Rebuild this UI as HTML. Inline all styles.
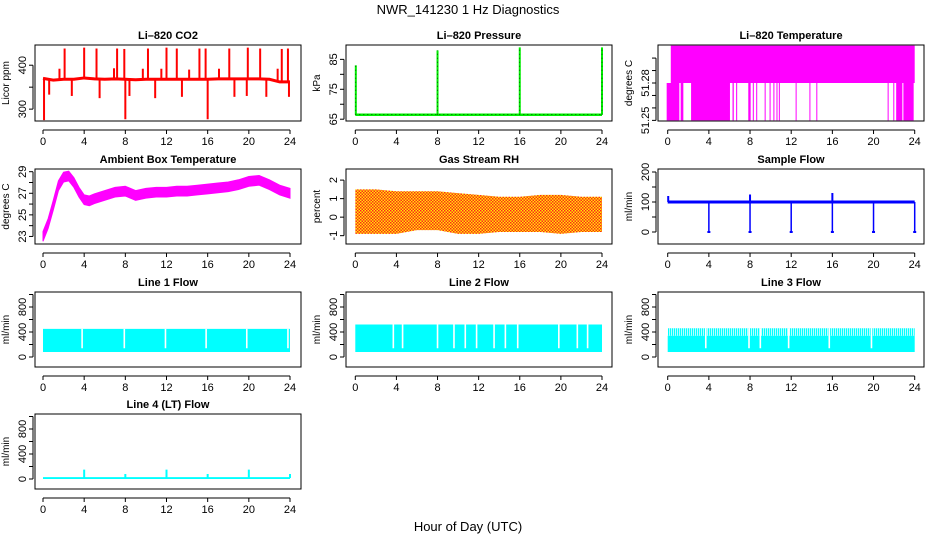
<!DOCTYPE html>
<html><head><meta charset="utf-8"><style>
body{margin:0;background:#fff}
svg{display:block;font-family:"Liberation Sans",sans-serif}
</style></head><body>
<svg id="c" width="936" height="540" viewBox="0 0 936 540">
<defs>
<pattern id="rhpat" width="3" height="3" patternUnits="userSpaceOnUse"><rect width="3" height="3" fill="#ffee00"/><rect x="0" y="0" width="1.5" height="1.5" fill="#ff2020"/><rect x="1.5" y="1.5" width="1.5" height="1.5" fill="#ff2020"/></pattern>
<pattern id="stripe" width="2" height="4" patternUnits="userSpaceOnUse"><rect width="1.3" height="4" fill="#00ffff"/></pattern>
</defs>
<text x="468" y="14" font-size="13" text-anchor="middle">NWR_141230  1 Hz Diagnostics</text>
<text x="468" y="531" font-size="13" text-anchor="middle">Hour of Day (UTC)</text>
</svg>
<script>
// ---- data ----
const hours = [0,1,2,3,4,5,6,7,8,9,10,11,12,13,14,15,16,17,18,19,20,21,22,23,24];
const co2Base = [370,366,368,368,371,369,368,369,368,367,368,368,368,368,368,368,368,369,369,369,369,369,368,362,362];
const co2SpikeHours = [0.1,2.1,4.0,5.2,7.2,7.9,8.0,10.2,12.0,13.0,15.2,15.8,16.0,18.1,19.9,21.1,23.2,23.8,0.6,2.8,5.5,8.4,10.9,13.5,18.6,19.8,21.7,23.9,1.6,6.9,9.7,11.5,14.2,17.1,22.8];
const co2SpikeVals = [275,438,440,438,438,437,277,438,440,438,438,438,277,438,440,438,437,438,333,330,325,330,325,328,328,330,328,328,392,393,392,392,390,392,392];
const presBase = 66.5;
const presSpikeHours = [0.05,8.0,16.0,24.0];
const presSpikeVals = [83,88,89,89];
const tempLowStart = [-0.1,1.26,2.27,6.3,6.65,7.83,8.27,8.6,9.42,9.9,10.27,10.57,10.8,12.43,13.77,14.44,21.37,21.92,22.2,22.9];
const tempLowEnd = [1.13,1.52,6.05,6.42,6.75,8.06,8.33,8.68,9.5,9.97,10.33,10.63,10.88,12.5,13.84,14.5,21.43,21.98,22.8,23.9];
const tempTopStart = 0.3, tempTopEnd = 24.0;
const tempLevels = [51.25,51.28,51.31];
const ambHours = [0,0.5,1,1.5,2,2.5,3,3.5,4,4.5,5,6,7,8,9,10,11,12,13,14,15,16,17,18,19,20,21,22,23,24];
const ambMean = [23.0,24.2,25.9,27.7,28.5,28.6,28.0,27.1,26.4,26.3,26.5,26.8,27.1,27.2,26.8,27.0,27.1,27.1,27.2,27.2,27.3,27.4,27.5,27.6,27.8,28.1,28.2,27.8,27.3,27.0];
const rhHours = [0,2,4,6,8,10,12,14,16,18,20,22,24];
const rhUpper = [1.5,1.5,1.4,1.4,1.4,1.3,1.2,1.1,1.1,1.2,1.2,1.1,1.1];
const rhLower = [-0.9,-0.9,-0.9,-0.7,-0.7,-0.9,-0.9,-0.8,-0.8,-0.8,-0.9,-0.8,-0.8];
const sfBase = 100;
const sfDropHours = [4,8,12,16,20,24];
const sfPeakHours = [0.05,8,16];
const sfPeakVals = [120,125,130];
const l1Upper = 450, l1Lower = 80, l1Gaps = [3.8,7.9,11.9,15.85,19.8,23.8];
const l2Upper = 520, l2Lower = 80, l2Gaps = [3.7,4.6,8.0,9.6,10.7,11.8,13.5,14.6,15.8,19.8,21.6,22.6];
const l3Upper = 460, l3Mid = 340, l3Lower = 80, l3Gaps = [3.7,7.9,9.0,11.75,15.7,19.8];
const l4Base = 15;
const l4SpikeHours = [4,8,12,16,20,24];
const l4SpikeVals = [150,80,150,80,150,80];
const xTicks = [0,4,8,12,16,20,24];

// ---- layout ----
const svg = document.getElementById('c');
const NS = 'http://www.w3.org/2000/svg';
function el(tag, attrs, parent){const e=document.createElementNS(NS,tag);for(const k in attrs)e.setAttribute(k,attrs[k]);(parent||svg).appendChild(e);return e;}
const cols = [{l:35,r:301,x0:43,x24:290},{l:346,r:612,x0:355.3,x24:602},{l:658,r:924,x0:667.7,x24:914.7}];
const rows = [{t:45,b:121},{t:169,b:244},{t:292,b:367},{t:414,b:489}];

function panel(name,title,ylab,row,col,ymin,ymax,yticks,ylabels){
  const R=rows[row],C=cols[col];
  const g=el('g',{});
  
  
  const X=h=>C.x0+(C.x24-C.x0)*h/24;
  const Y=v=>R.b-(v-ymin)/(ymax-ymin)*(R.b-R.t);
  const plot=el('g',{},g);
  const t=el('text',{x:(C.l+C.r)/2,y:R.t-6,'font-size':11,'font-weight':'bold','text-anchor':'middle'},g);t.textContent=title;
  
  
  el('rect',{x:C.l,y:R.t,width:C.r-C.l,height:R.b-R.t,fill:'none',stroke:'#000','stroke-width':1},g);
  const ax=el('g',{},g);
  
  
  el('line',{x1:X(0),x2:X(24),y1:R.b+9,y2:R.b+9,stroke:'#000'},ax);
  xTicks.forEach(h=>{el('line',{x1:X(h),x2:X(h),y1:R.b+9,y2:R.b+13,stroke:'#000'},ax);
    const tx=el('text',{x:X(h),y:R.b+24,'font-size':11,'text-anchor':'middle'},ax);tx.textContent=h;});
  const ay=el('g',{},g);
  
  
  const yl=C.l-2;
  el('line',{x1:yl,x2:yl,y1:Y(yticks[0]),y2:Y(yticks[yticks.length-1]),stroke:'#000'},ay);
  yticks.forEach(v=>{el('line',{x1:yl-4,x2:yl,y1:Y(v),y2:Y(v),stroke:'#000'},ay);});
  ylabels.forEach(v=>{const ty=Y(v);const tx=el('text',{x:0,y:0,'font-size':11,'text-anchor':'middle',transform:`translate(${C.l-9},${ty}) rotate(-90)`},ay);tx.textContent=v;});
  const yt=el('text',{x:0,y:0,'font-size':10,'text-anchor':'middle',transform:`translate(${C.l-26},${(R.t+R.b)/2}) rotate(-90)`},g);yt.textContent=ylab;
  
  
  return {X,Y,plot,R,C};
}
function line(p,x1,y1,x2,y2,c,w,extra){const l=el('line',Object.assign({x1,y1,x2,y2,stroke:c,'stroke-width':w||1},extra||{}),p.plot);return l;}

// CO2
let p=panel('co2','Li\u2013820 CO2','Licor ppm',0,0,273,446,[300,350,400],[300,400]);
co2SpikeHours.forEach((h,i)=>{const b=co2Base[Math.round(h)];const s=line(p,p.X(h),p.Y(b),p.X(h),p.Y(co2SpikeVals[i]),'#ff0000',2);
  
  });
const co2pl=el('polyline',{points:hours.map((h,i)=>p.X(h)+','+p.Y(co2Base[i])).join(' '),fill:'none',stroke:'#ff0000','stroke-width':3},p.plot);



// Pressure
p=panel('pressure','Li\u2013820 Pressure','kPa',0,1,64.4,89.8,[65,70,75,80,85],[65,75,85]);
line(p,p.X(0),p.Y(presBase),p.X(24),p.Y(presBase),'#00ee00',2.5);
line(p,p.X(0),p.Y(presBase),p.X(24),p.Y(presBase),'#000',0.6,{'stroke-dasharray':'1,3'});
presSpikeHours.forEach((h,i)=>{const s=line(p,p.X(h),p.Y(presBase),p.X(h),p.Y(presSpikeVals[i]),'#00ee00',2);
  
  
  line(p,p.X(h),p.Y(presBase),p.X(h),p.Y(presSpikeVals[i]),'#000',0.6,{'stroke-dasharray':'1,3'});});

// Li-820 temperature
p=panel('li820-temp','Li\u2013820 Temperature','degrees C',0,2,51.2495,51.3105,[51.25,51.26,51.27,51.28,51.29,51.30],[51.25,51.28]);
{const r=el('rect',{x:p.X(tempTopStart),y:p.Y(tempLevels[2]),width:p.X(tempTopEnd)-p.X(tempTopStart),height:p.Y(tempLevels[1])-p.Y(tempLevels[2]),fill:'#ff00ff'},p.plot);
 
 }
tempLowStart.forEach((s,i)=>{const w=Math.max(1,p.X(tempLowEnd[i])-p.X(s));const r=el('rect',{x:p.X(s),y:p.Y(tempLevels[1]),width:w,height:p.Y(tempLevels[0])-p.Y(tempLevels[1]),fill:'#ff00ff'},p.plot);
  
  });

// Ambient
p=panel('ambient-temp','Ambient Box Temperature','degrees C',1,0,22.3,29.25,[23,24,25,26,27,28,29],[23,25,27,29]);
{const up=ambHours.map((h,i)=>p.X(h)+','+p.Y(ambMean[i]+0.45)),dn=ambHours.map((h,i)=>p.X(h)+','+p.Y(ambMean[i]-0.45)).reverse();
 const pg=el('polygon',{points:up.concat(dn).join(' '),fill:'#ff00ff',stroke:'#ff00ff','stroke-width':1},p.plot);
 
 }

// RH
p=panel('gas-rh','Gas Stream RH','percent',1,1,-1.45,2.6,[-1,0,1,2],[-1,0,1,2]);
{const up=rhHours.map((h,i)=>p.X(h)+','+p.Y(rhUpper[i])),dn=rhHours.map((h,i)=>p.X(h)+','+p.Y(rhLower[i])).reverse();
 const pg=el('polygon',{points:up.concat(dn).join(' '),fill:'url(#rhpat)'},p.plot);
 
 }

// Sample flow
p=panel('sample-flow','Sample Flow','ml/min',1,2,-40,210,[0,50,100,150,200],[0,100,200]);
line(p,p.X(0),p.Y(sfBase),p.X(24),p.Y(sfBase),'#0000ff',3);
sfDropHours.forEach(h=>{const s=line(p,p.X(h),p.Y(sfBase),p.X(h),p.Y(0),'#0000ff',1.5);
  
  
  line(p,p.X(h)-1.5,p.Y(0),p.X(h)+1.5,p.Y(0),'#0000ff',2);});
sfPeakHours.forEach((h,i)=>{line(p,p.X(h),p.Y(sfBase),p.X(h),p.Y(sfPeakVals[i]),'#0000ff',2);});

// line flows
function flowBand(p,upper,lower,gaps,name,gapTop){
  const r=el('rect',{x:p.X(0),y:p.Y(upper),width:p.X(24)-p.X(0),height:p.Y(lower)-p.Y(upper),fill:'#00ffff'},p.plot);
  
  
  const top=gapTop||upper;
  gaps.forEach(h=>{el('rect',{x:p.X(h)-0.8,y:p.Y(top),width:1.6,height:p.Y(lower+60)-p.Y(top),fill:'#fff'},p.plot);});
}
p=panel('line1-flow','Line 1 Flow','ml/min',2,0,-160,1040,[0,200,400,600,800,1000],[0,400,800]);
flowBand(p,l1Upper,l1Lower,l1Gaps,'line1-flow-series');
p=panel('line2-flow','Line 2 Flow','ml/min',2,1,-160,1040,[0,200,400,600,800,1000],[0,400,800]);
flowBand(p,l2Upper,l2Lower,l2Gaps,'line2-flow-series');
p=panel('line3-flow','Line 3 Flow','ml/min',2,2,-160,1040,[0,200,400,600,800,1000],[0,400,800]);
{const r=el('rect',{x:p.X(0),y:p.Y(l3Upper),width:p.X(24)-p.X(0),height:p.Y(l3Mid)-p.Y(l3Upper),fill:'url(#stripe)'},p.plot);
 
 }
flowBand(p,l3Mid,l3Lower,l3Gaps,'line3-flow-series',l3Upper);
p=panel('line4-flow','Line 4 (LT) Flow','ml/min',3,0,-160,1040,[0,200,400,600,800,1000],[0,400,800]);
{const r=el('rect',{x:p.X(0),y:p.Y(l4Base+15),width:p.X(24)-p.X(0),height:p.Y(0)-p.Y(l4Base+15),fill:'#00ffff'},p.plot);
 
 }
l4SpikeHours.forEach((h,i)=>{const s=line(p,p.X(h),p.Y(l4Base),p.X(h),p.Y(l4SpikeVals[i]),'#00ffff',2);
  
  });
</script>
</body></html>
